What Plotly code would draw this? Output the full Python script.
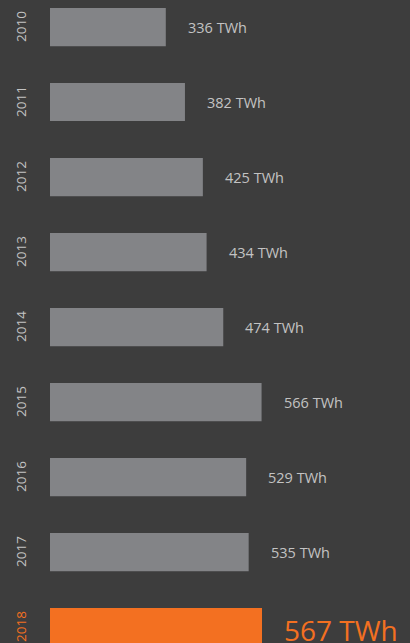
import plotly.graph_objects as go

years = ["2010", "2011", "2012", "2013", "2014", "2015", "2016", "2017", "2018"]
values = [336, 382, 425, 434, 474, 566, 529, 535, 567]
labels = ["336 TWh", "382 TWh", "425 TWh", "434 TWh", "474 TWh", "566 TWh", "529 TWh", "535 TWh", "567 TWh"]

BG = "#3d3d3d"
GREY = "#838487"
ORANGE = "#f37021"
TXT = "#c3c3c3"

colors = [ORANGE if y == "2018" else GREY for y in years]

fig = go.Figure()
fig.add_trace(go.Bar(
    x=values, y=list(range(len(years))), orientation="h",
    marker=dict(color=colors, line=dict(width=0)),
    width=0.51, hoverinfo="skip",
))

for i, (y, v, lab) in enumerate(zip(years, values, labels)):
    last = (y == "2018")
    fig.add_annotation(
        x=v, y=i, xref="x", yref="y", text=lab, showarrow=False,
        xanchor="left", yanchor="middle", xshift=20,
        yshift=0 if not last else -3,
        font=dict(family="Open Sans", size=28 if last else 14.5,
                  color=ORANGE if last else TXT),
    )
    fig.add_annotation(
        x=0, y=i, xref="paper", yref="y", text=y, showarrow=False,
        textangle=-90, xanchor="center", yanchor="middle", xshift=-29,
        font=dict(family="Open Sans", size=13.5, color=ORANGE if last else TXT),
    )

px_per_unit = 0.4165
x0 = 58
fig.update_layout(
    width=410, height=643,
    margin=dict(l=50, r=0, t=0, b=0),
    paper_bgcolor=BG, plot_bgcolor=BG,
    showlegend=False,
    xaxis=dict(range=[x0, x0 + 360 / px_per_unit], visible=False, fixedrange=True),
    yaxis=dict(range=[643 / 75 - 0.36, -0.36], visible=False, fixedrange=True),
)

fig.write_html("out.html", config=dict(displayModeBar=False))

with open("out.html", encoding="utf-8") as f:
    html = f.read()
html = html.replace("<head>", "<head><style>html,body{margin:0;padding:0;overflow:hidden;background:#3d3d3d;}</style>", 1)
with open("out.html", "w", encoding="utf-8") as f:
    f.write(html)
